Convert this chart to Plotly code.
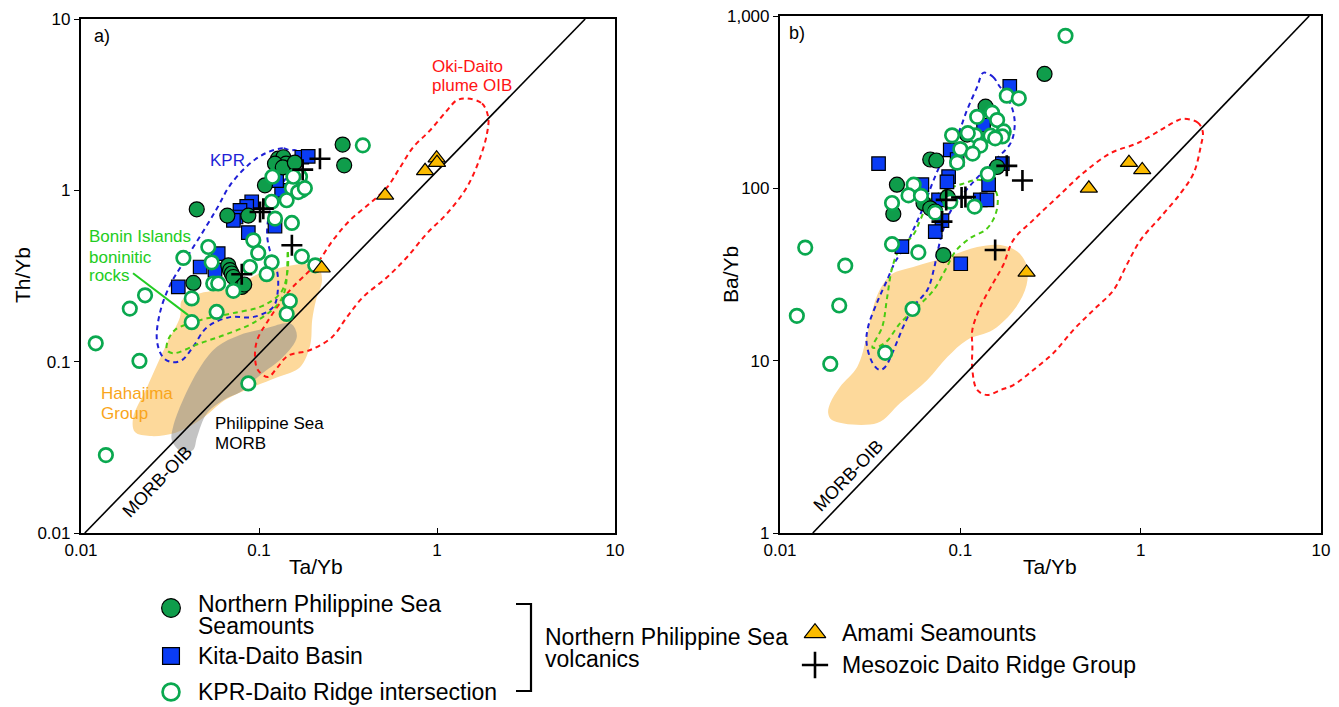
import plotly.graph_objects as go

W, H = 1339, 707
FONT = "Liberation Sans, Arial, Helvetica, sans-serif"

# ---------------- Panel a: Th/Yb vs Ta/Yb ----------------
seamount_a_ta = [0.295, 0.301, 0.0447, 0.0664, 0.0871, 0.108, 0.128, 0.137, 0.142, 0.123,
                 0.136, 0.159, 0.0428, 0.0672, 0.0687, 0.0703, 0.0718, 0.080, 0.0826]
seamount_a_th = [1.85, 1.40, 0.775, 0.712, 0.712, 1.07, 1.53, 1.56, 1.43, 1.43,
                 1.36, 1.45, 0.288, 0.365, 0.342, 0.327, 0.312, 0.273, 0.282]

kitadaito_a_ta = [0.174, 0.189, 0.134, 0.091, 0.0853, 0.0782, 0.0743, 0.0718, 0.0871, 0.123,
                  0.1256, 0.059, 0.0467, 0.0352, 0.0566]
kitadaito_a_th = [1.56, 1.58, 1.00, 0.858, 0.807, 0.764, 0.699, 0.668, 0.567, 0.617,
                  1.14, 0.427, 0.357, 0.273, 0.342]

kpr_daito_a_ta = [0.119, 0.170, 0.153, 0.174, 0.166, 0.143, 0.1178, 0.123, 0.153, 0.0929,
                  0.099, 0.0519, 0.0376, 0.0542, 0.1178, 0.174, 0.207, 0.0889, 0.1104, 0.0553,
                  0.059, 0.0718, 0.0419, 0.0578, 0.0419, 0.149, 0.143, 0.383, 0.0121, 0.0213,
                  0.0188, 0.0229, 0.0871, 0.0138, 0.156, 0.181]
kpr_daito_a_th = [1.20, 1.20, 1.03, 1.00, 0.977, 0.875, 0.858, 0.684, 0.645, 0.511,
                  0.431, 0.467, 0.403, 0.380, 0.380, 0.411, 0.365, 0.357, 0.324, 0.286,
                  0.286, 0.259, 0.234, 0.195, 0.170, 0.226, 0.190, 1.83, 0.128, 0.101,
                  0.204, 0.244, 0.0746, 0.0285, 1.20, 1.03]

amami_a_ta = [0.995, 1.0, 0.857, 0.511, 0.225]
amami_a_th = [1.54, 1.45, 1.30, 0.935, 0.351]

mesozoic_a_ta = [0.220, 0.176, 0.1057, 0.1014, 0.153, 0.080]
mesozoic_a_th = [1.53, 1.32, 0.782, 0.747, 0.478, 0.324]

# field outlines, panel a
hahajima_a_ta = [0.0196, 0.0201, 0.0244, 0.0337, 0.0467, 0.0644, 0.0889, 0.128, 0.170, 0.194,
                 0.199, 0.209, 0.226, 0.214, 0.170, 0.144, 0.1014, 0.0714, 0.0467, 0.0369,
                 0.036, 0.0304, 0.0235, 0.0196]
hahajima_a_th = [0.0468, 0.0388, 0.0368, 0.0383, 0.0456, 0.0597, 0.070, 0.0813, 0.0929, 0.125,
                 0.175, 0.228, 0.299, 0.360, 0.370, 0.360, 0.328, 0.272, 0.251, 0.228,
                 0.182, 0.128, 0.071, 0.0468]

morb_a_ta = [0.155, 0.163, 0.136, 0.1014, 0.0782, 0.0661, 0.0511, 0.0449, 0.0426, 0.0369,
             0.0324, 0.0329, 0.0374, 0.0467, 0.0581, 0.0782, 0.111, 0.144, 0.155]
morb_a_th = [0.163, 0.139, 0.106, 0.0834, 0.0664, 0.0613, 0.0501, 0.0363, 0.0305, 0.0297,
             0.0348, 0.0415, 0.0597, 0.0929, 0.122, 0.143, 0.157, 0.168, 0.163]

kpr_field_a_ta = [0.149, 0.136, 0.108, 0.0867, 0.0687, 0.0581, 0.0467, 0.0374, 0.0316, 0.0278,
                  0.0267, 0.0289, 0.0324, 0.0369, 0.0426, 0.0511, 0.0687, 0.0925, 0.120, 0.128,
                  0.125, 0.115, 0.111, 0.115, 0.131, 0.149, 0.166, 0.161, 0.149]
kpr_field_a_th = [1.71, 1.76, 1.64, 1.40, 1.07, 0.785, 0.539, 0.375, 0.279, 0.194,
                  0.133, 0.106, 0.0993, 0.102, 0.122, 0.159, 0.182, 0.182, 0.208, 0.272,
                  0.357, 0.447, 0.561, 0.745, 1.04, 1.26, 1.50, 1.71, 1.71]

okidaito_a_ta = [1.47, 1.79, 1.94, 1.91, 1.75, 1.47, 1.14, 0.879, 0.678, 0.524,
                 0.384, 0.312, 0.257, 0.194, 0.145, 0.126, 0.1124, 0.0987, 0.095, 0.0975,
                 0.111, 0.149, 0.186, 0.212, 0.260, 0.324, 0.420, 0.524, 0.620, 0.733,
                 0.914, 1.14, 1.29, 1.47]
okidaito_a_th = [3.44, 3.21, 2.67, 2.15, 1.56, 1.04, 0.734, 0.561, 0.407, 0.311,
                 0.238, 0.182, 0.139, 0.117, 0.108, 0.0917, 0.0813, 0.0892, 0.106, 0.133,
                 0.170, 0.261, 0.328, 0.375, 0.511, 0.668, 0.840, 1.04, 1.36, 1.78,
                 2.24, 2.93, 3.35, 3.44]

bonin_a_ta = [0.145, 0.145, 0.133, 0.104, 0.0714, 0.0511, 0.041, 0.0337, 0.0308, 0.0304,
              0.0330, 0.0467, 0.0661, 0.0925, 0.126, 0.140, 0.145]
bonin_a_th = [0.447, 0.342, 0.254, 0.211, 0.192, 0.179, 0.168, 0.153, 0.133, 0.117,
              0.112, 0.128, 0.145, 0.168, 0.213, 0.262, 0.447]

morb_oib_a_ta = [0.0105, 6.8]
morb_oib_a_th = [0.01, 10.0]

bonin_pointer_ta = [0.0196, 0.040]
bonin_pointer_th = [0.328, 0.187]

# ---------------- Panel b: Ba/Yb vs Ta/Yb ----------------
seamount_b_ta = [0.293, 0.138, 0.0681, 0.0736, 0.0445, 0.0425, 0.0625, 0.0681, 0.0726, 0.0805,
                 0.160, 0.109, 0.085]
seamount_b_ba = [461, 298, 147, 145, 105, 71, 82, 76.6, 73.3, 41,
                 133, 205, 89]

kitadaito_b_ta = [0.188, 0.0352, 0.1345, 0.0879, 0.096, 0.0861, 0.0843, 0.0612, 0.0757, 0.129,
                  0.1406, 0.1435, 0.0791, 0.0726, 0.0474, 0.1005, 0.171]
kitadaito_b_ba = [390, 139, 233, 167, 147, 117, 109, 105, 85.7, 85.7,
                  85.7, 105, 65, 56.1, 45.9, 36.5, 139]

kpr_daito_b_ta = [0.383, 0.181, 0.211, 0.150, 0.124, 0.160, 0.174, 0.171, 0.147, 0.121,
                  0.110, 0.090, 0.156, 0.129, 0.100, 0.117, 0.096, 0.142, 0.0551, 0.0516,
                  0.0605, 0.0418, 0.0726, 0.0879, 0.120, 0.0418, 0.0585, 0.0138, 0.0230, 0.0124,
                  0.0213, 0.0543, 0.0383, 0.0190]
kpr_daito_b_ba = [767, 345, 333, 275, 260, 249, 214, 200, 202, 203,
                  209, 203, 195, 177, 169, 159, 141, 121, 105, 91,
                  90.5, 82.2, 72.3, 83.7, 78.3, 47.4, 42.5, 45.3, 35.6, 18.2,
                  20.9, 19.95, 11.1, 9.57]

amami_b_ta = [0.861, 1.02, 0.516, 0.233]
amami_b_ba = [141, 128, 100, 32.5]

mesozoic_b_ta = [0.181, 0.221, 0.1067, 0.1016, 0.0835, 0.0791, 0.156]
mesozoic_b_ba = [135, 111, 89, 88.5, 85.7, 64.1, 43.9]

# field outlines, panel b
hahajima_b_ta = [0.0185, 0.0194, 0.0346, 0.0464, 0.0656, 0.0847, 0.109, 0.152, 0.202, 0.233,
                 0.233, 0.207, 0.167, 0.124, 0.0847, 0.0548, 0.042, 0.0357, 0.0326, 0.0302,
                 0.0268, 0.0215, 0.0190, 0.0185]
hahajima_b_ba = [4.97, 4.53, 4.35, 5.68, 7.73, 10.5, 13.2, 15.1, 20.2, 27.5,
                 35.9, 43.0, 46.9, 45.7, 40.0, 35.0, 31.9, 25.7, 19.7, 13.7,
                 9.19, 7.04, 5.68, 4.97]

kpr_field_b_ta = [0.134, 0.152, 0.163, 0.182, 0.197, 0.2, 0.190, 0.156, 0.121, 0.0975,
                  0.0861, 0.0794, 0.0745, 0.0712, 0.0656, 0.0548, 0.0482, 0.042, 0.0383, 0.0357,
                  0.0326, 0.0302, 0.0308, 0.035, 0.0393, 0.0435, 0.0508, 0.0548, 0.0615, 0.0712,
                  0.0847, 0.0975, 0.109, 0.124, 0.134]
kpr_field_b_ba = [468, 443, 398, 339, 274, 227, 183, 146, 112, 85.7,
                  70.1, 55.1, 42.2, 33.6, 25.7, 20.5, 15.7, 11.1, 9.19, 8.83,
                  9.70, 12.7, 15.7, 22.5, 29.4, 37.4, 48.2, 57.4, 74.9, 112,
                  167, 210, 285, 388, 468]

bonin_b_ta = [0.126, 0.147, 0.160, 0.160, 0.152, 0.138, 0.1136, 0.0938, 0.0826, 0.0712,
              0.0577, 0.0464, 0.0383, 0.0326, 0.0369, 0.0393, 0.042, 0.0464, 0.0548, 0.060,
              0.0681, 0.0826, 0.1026, 0.126]
bonin_b_ba = [112, 106, 91.5, 76.9, 65.6, 57.4, 51.5, 43.0, 33.6, 25.7,
              20.5, 16.5, 12.7, 11.9, 15.7, 23.4, 35.0, 45.1, 53.6, 65.6,
              85.7, 97.9, 106, 112]

okidaito_b_ta = [1.71, 2.07, 2.21, 2.15, 1.97, 1.67, 1.29, 1.0, 0.836, 0.708,
                 0.548, 0.424, 0.329, 0.254, 0.197, 0.167, 0.141, 0.124, 0.1166, 0.1166,
                 0.1166, 0.129, 0.152, 0.173, 0.197, 0.254, 0.346, 0.482, 0.681, 0.962,
                 1.29, 1.52, 1.71]
okidaito_b_ba = [253, 241, 213, 174, 123, 94, 68.2, 50.2, 35.9, 25.7,
                 19.7, 15.1, 11.1, 8.83, 7.22, 6.76, 6.32, 6.76, 8.83, 11.9,
                 15.1, 20.5, 28.2, 35.9, 50.2, 65.6, 89.1, 123, 160, 183,
                 218, 241, 253]

morb_oib_b_ta = [0.0152, 8.6]
morb_oib_b_ba = [1.0, 1000.0]

# ---------------- styles ----------------
GREEN_FILL = "#0f9d4b"
GREEN_OPEN = "#0aa84f"
BLUE_SQ = "#0a3cf5"
AMBER = "#fbbb00"
ORANGE_FIELD = "#fdd99b"
GREY_FIELD = "rgba(135,135,135,0.5)"
KPR_BLUE = "#1f1fd6"
OIB_RED = "#ff1414"
BONIN_GREEN = "#49cc10"

fig = go.Figure()


def px_x(v):
    return v / W


def px_y(v):
    return 1 - v / H


def add_field(xs, ys, ax, fill=None, line=None):
    xa, ya = ax
    if fill is not None:
        fig.add_trace(go.Scatter(x=xs, y=ys, mode="lines", fill="toself", fillcolor=fill,
                                 line=dict(width=0, shape="spline", smoothing=1.0),
                                 xaxis=xa, yaxis=ya, hoverinfo="skip", showlegend=False))
    if line is not None:
        fig.add_trace(go.Scatter(x=xs, y=ys, mode="lines",
                                 line=dict(color=line, width=2, dash="5px,4px",
                                           shape="spline", smoothing=1.0),
                                 xaxis=xa, yaxis=ya, hoverinfo="skip", showlegend=False))


def marker_style(kind, scale=1.0):
    if kind == "seamount":
        return dict(symbol="circle", size=15 * scale, color=GREEN_FILL,
                    line=dict(color="black", width=1.2))
    if kind == "kitadaito":
        return dict(symbol="square", size=13.5 * scale, color=BLUE_SQ,
                    line=dict(color="black", width=1.2))
    if kind == "kprdaito":
        return dict(symbol="circle", size=13.5 * scale, color="white",
                    line=dict(color=GREEN_OPEN, width=2.7))
    if kind == "amami":
        return dict(symbol="triangle-up", size=15 * scale, color=AMBER,
                    line=dict(color="black", width=1.2))
    return dict(symbol="cross-thin", size=15 * scale, color="black",
                line=dict(color="black", width=2.6))


def add_points(ax, sets, scale=1.0):
    xa, ya = ax
    for (xs, ys, kind) in sets:
        fig.add_trace(go.Scatter(x=xs, y=ys, mode="markers", marker=marker_style(kind, scale),
                                 xaxis=xa, yaxis=ya, hoverinfo="skip", showlegend=False,
                                 cliponaxis=False))


A = ("x", "y")
B = ("x2", "y2")

# panel a fields
add_field(hahajima_a_ta, hahajima_a_th, A, fill=ORANGE_FIELD)
add_field(morb_a_ta, morb_a_th, A, fill=GREY_FIELD)
add_field(okidaito_a_ta, okidaito_a_th, A, line=OIB_RED)
add_field(kpr_field_a_ta, kpr_field_a_th, A, line=KPR_BLUE)
add_field(bonin_a_ta, bonin_a_th, A, line=BONIN_GREEN)
fig.add_trace(go.Scatter(x=morb_oib_a_ta, y=morb_oib_a_th, mode="lines",
                         line=dict(color="black", width=1.6), xaxis="x", yaxis="y",
                         hoverinfo="skip", showlegend=False))
fig.add_trace(go.Scatter(x=bonin_pointer_ta, y=bonin_pointer_th, mode="lines",
                         line=dict(color="#22cc22", width=2), xaxis="x", yaxis="y",
                         hoverinfo="skip", showlegend=False))
add_points(A, [
    (kitadaito_a_ta, kitadaito_a_th, "kitadaito"),
    (seamount_a_ta, seamount_a_th, "seamount"),
    (kpr_daito_a_ta, kpr_daito_a_th, "kprdaito"),
    (amami_a_ta, amami_a_th, "amami"),
    (mesozoic_a_ta, mesozoic_a_th, "mesozoic"),
])

# panel b fields
add_field(hahajima_b_ta, hahajima_b_ba, B, fill=ORANGE_FIELD)
add_field(okidaito_b_ta, okidaito_b_ba, B, line=OIB_RED)
add_field(kpr_field_b_ta, kpr_field_b_ba, B, line=KPR_BLUE)
add_field(bonin_b_ta, bonin_b_ba, B, line=BONIN_GREEN)
fig.add_trace(go.Scatter(x=morb_oib_b_ta, y=morb_oib_b_ba, mode="lines",
                         line=dict(color="black", width=1.6), xaxis="x2", yaxis="y2",
                         hoverinfo="skip", showlegend=False))
add_points(B, [
    (kitadaito_b_ta, kitadaito_b_ba, "kitadaito"),
    (seamount_b_ta, seamount_b_ba, "seamount"),
    (kpr_daito_b_ta, kpr_daito_b_ba, "kprdaito"),
    (amami_b_ta, amami_b_ba, "amami"),
    (mesozoic_b_ta, mesozoic_b_ba, "mesozoic"),
])

# legend symbols on a transparent full-page overlay axis (pixel units)
legend_items = [
    ("seamount", 171, 608), ("kitadaito", 171, 656), ("kprdaito", 171, 692),
    ("amami", 815, 633), ("mesozoic", 815, 665),
]
for kind, lx, ly in legend_items:
    add_points(("x3", "y3"), [([lx], [ly], kind)], scale=1.25)

axis_common = dict(type="log", showgrid=False, zeroline=False, showline=True, mirror=True,
                   linecolor="black", linewidth=2.2, ticklen=5, tickwidth=1.2, tickcolor="black",
                   automargin=False,
                   tickfont=dict(family=FONT, size=17, color="black"))

fig.update_layout(
    width=W, height=H,
    margin=dict(l=0, r=0, t=0, b=0, pad=0, autoexpand=False),
    paper_bgcolor="white", plot_bgcolor="rgba(0,0,0,0)",
    showlegend=False,
    xaxis=dict(axis_common, domain=[px_x(81), px_x(615)], range=[-2, 1], anchor="y",
               ticks="inside", tickvals=[0.01, 0.1, 1, 10], ticktext=["0.01", "0.1", "1", "10"]),
    yaxis=dict(axis_common, domain=[px_y(533), px_y(19)], range=[-2, 1], anchor="x",
               ticks="outside", tickvals=[0.01, 0.1, 1, 10], ticktext=["0.01", "0.1", "1", "10"]),
    xaxis2=dict(axis_common, domain=[px_x(780), px_x(1321)], range=[-2, 1], anchor="y2",
                ticks="inside", tickvals=[0.01, 0.1, 1, 10], ticktext=["0.01", "0.1", "1", "10"]),
    yaxis2=dict(axis_common, domain=[px_y(533), px_y(16)], range=[0, 3], anchor="x2",
                ticks="outside", tickvals=[1, 10, 100, 1000], ticktext=["1", "10", "100", "1,000"]),
    xaxis3=dict(domain=[0, 1], range=[0, W], visible=False, anchor="y3", fixedrange=True,
                automargin=False),
    yaxis3=dict(domain=[0, 1], range=[H, 0], visible=False, anchor="x3", fixedrange=True,
                automargin=False),
)


def label(text, x, y, size=17, color="black", xanchor="left", angle=0):
    fig.add_annotation(text=text, x=px_x(x), y=px_y(y), xref="paper", yref="paper",
                       showarrow=False, xanchor=xanchor, yanchor="middle", textangle=angle,
                       font=dict(family=FONT, size=size, color=color))


# panel a text
label("a)", 92, 36, size=18)
label("KPR", 228, 160, color=KPR_BLUE, xanchor="center")
label("Oki-Daito", 430, 66, color=OIB_RED)
label("plume OIB", 430, 86, color=OIB_RED)
label("Bonin Islands", 87, 237, color="#22cc22")
label("boninitic", 87, 257, color="#22cc22")
label("rocks", 87, 276, color="#22cc22")
label("Hahajima", 99, 393, color="#f9a51a")
label("Group", 99, 413, color="#f9a51a")
label("Philippine Sea", 213, 424)
label("MORB", 213, 443)
label("MORB-OIB", 157, 482, size=18, xanchor="center", angle=-46)
label("Th/Yb", 22, 275, size=21, xanchor="center", angle=-90)
label("Ta/Yb", 316, 566, size=21, xanchor="center")

# panel b text
label("b)", 787, 33, size=18)
label("MORB-OIB", 848, 476, size=18, xanchor="center", angle=-46)
label("Ba/Yb", 730, 275, size=21, xanchor="center", angle=-90)
label("Ta/Yb", 1050, 566, size=21, xanchor="center")

# legend text
label("Northern Philippine Sea", 196, 604, size=23)
label("Seamounts", 196, 626, size=23)
label("Kita-Daito Basin", 196, 656, size=23)
label("KPR-Daito Ridge intersection", 196, 692, size=23)
label("Northern Philippine Sea", 543, 637, size=23)
label("volcanics", 543, 659, size=23)
label("Amami Seamounts", 840, 633, size=23)
label("Mesozoic Daito Ridge Group", 840, 665, size=23)

fig.add_shape(type="path", xref="paper", yref="paper",
              path=f"M {px_x(516)} {px_y(604)} L {px_x(531)} {px_y(604)} "
                   f"L {px_x(531)} {px_y(691)} L {px_x(516)} {px_y(691)}",
              line=dict(color="black", width=2.2))

fig.write_html("out.html")
